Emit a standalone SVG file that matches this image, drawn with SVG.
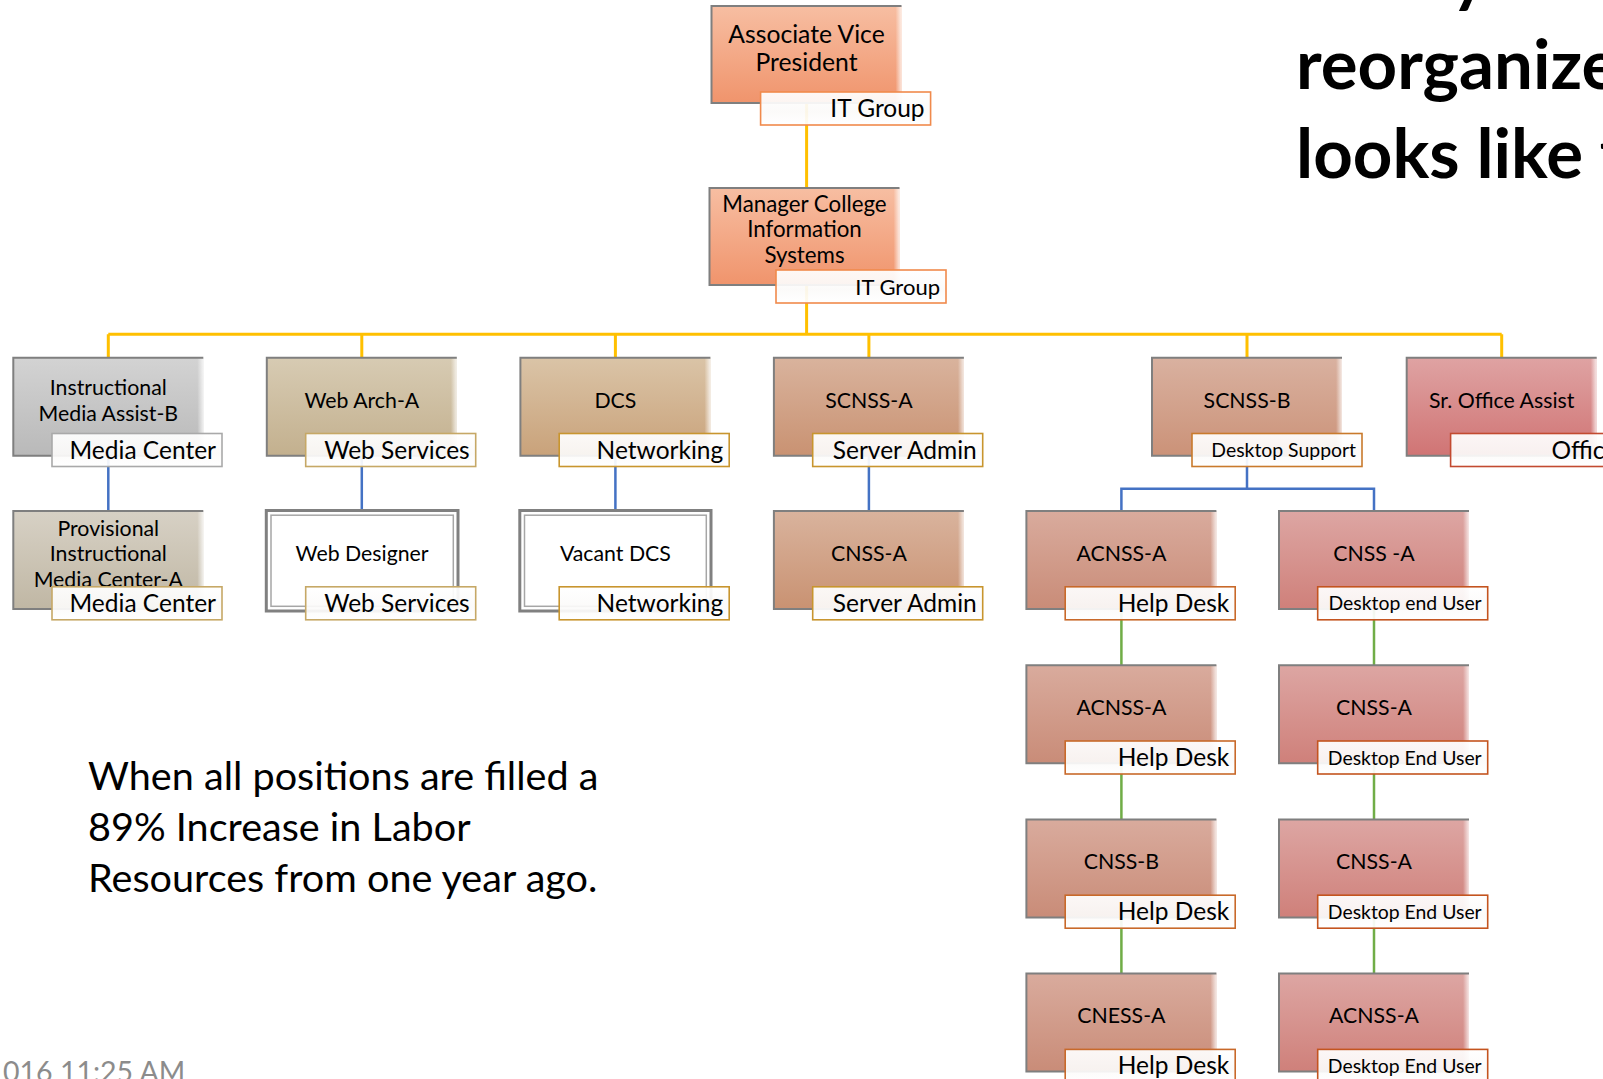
<svg xmlns="http://www.w3.org/2000/svg" width="1603" height="1079" viewBox="0 0 1603 1079">
<defs>
<linearGradient id="g-salmon" x1="0" y1="0" x2="0" y2="1"><stop offset="0" stop-color="#f7bea2"/><stop offset="1" stop-color="#f0946c"/></linearGradient>
<linearGradient id="g-gray" x1="0" y1="0" x2="0" y2="1"><stop offset="0" stop-color="#d3d3d3"/><stop offset="1" stop-color="#b9b9b9"/></linearGradient>
<linearGradient id="g-khaki" x1="0" y1="0" x2="0" y2="1"><stop offset="0" stop-color="#d7d1c5"/><stop offset="1" stop-color="#c0b7a4"/></linearGradient>
<linearGradient id="g-tan" x1="0" y1="0" x2="0" y2="1"><stop offset="0" stop-color="#d7cbb3"/><stop offset="1" stop-color="#c3b08e"/></linearGradient>
<linearGradient id="g-dcs" x1="0" y1="0" x2="0" y2="1"><stop offset="0" stop-color="#dac4a7"/><stop offset="1" stop-color="#c9a27a"/></linearGradient>
<linearGradient id="g-scnss" x1="0" y1="0" x2="0" y2="1"><stop offset="0" stop-color="#d9b39d"/><stop offset="1" stop-color="#c99272"/></linearGradient>
<linearGradient id="g-scnssb" x1="0" y1="0" x2="0" y2="1"><stop offset="0" stop-color="#d9b1a0"/><stop offset="1" stop-color="#cb9278"/></linearGradient>
<linearGradient id="g-cola" x1="0" y1="0" x2="0" y2="1"><stop offset="0" stop-color="#d9ab9d"/><stop offset="1" stop-color="#c98c78"/></linearGradient>
<linearGradient id="g-colb" x1="0" y1="0" x2="0" y2="1"><stop offset="0" stop-color="#dda6a3"/><stop offset="1" stop-color="#cf807a"/></linearGradient>
<linearGradient id="g-sr" x1="0" y1="0" x2="0" y2="1"><stop offset="0" stop-color="#dfa3a3"/><stop offset="1" stop-color="#d07474"/></linearGradient>
<linearGradient id="g-edge" x1="0" y1="0" x2="1" y2="0"><stop offset="0" stop-color="#fff" stop-opacity="0"/><stop offset="1" stop-color="#fff" stop-opacity="0.75"/></linearGradient>
<linearGradient id="g-label" x1="0" y1="0" x2="0" y2="1"><stop offset="0" stop-color="#fff"/><stop offset="0.6" stop-color="#fbfaf9"/><stop offset="1" stop-color="#fff"/></linearGradient>
</defs>
<style>
.bd{fill:none;stroke:#7f7f7f;stroke-width:2}
.edge{fill:url(#g-edge)}
.t{font-family:Lato,"Liberation Sans",sans-serif;font-size:21.3px;fill:#000;text-anchor:middle}
.lb{fill:url(#g-label);fill-opacity:0.93;stroke-width:1.6}
.lt{font-family:Lato,"Liberation Sans",sans-serif;font-size:24.5px;fill:#000;text-anchor:end}
.lts{font-size:19.4px}
.l-top{stroke:#f08a4c}
.l-gray{stroke:#a9a9a9}
.l-tan{stroke:#c6a866}
.l-gold{stroke:#c8952e}
.l-ds{stroke:#c97a2c}
.l-hd{stroke:#c8692a}
.l-du{stroke:#c4541f}
.l-sr{stroke:#c24a30}
.c-y{stroke:#ffc000;stroke-width:3;fill:none}
.c-b{stroke:#4472c4;stroke-width:2.5;fill:none}
.c-g{stroke:#70ad47;stroke-width:2.5;fill:none}
.dbl-o{fill:#fff;stroke:#808080;stroke-width:3}
.dbl-i{fill:none;stroke:#a6a6a6;stroke-width:1.5}
.body{font-family:Lato,"Liberation Sans",sans-serif;font-size:39.6px;fill:#000}
.title{font-family:Lato,"Liberation Sans",sans-serif;font-size:69px;font-weight:bold;fill:#000}
.stamp{font-family:Lato,"Liberation Sans",sans-serif;font-size:28.5px;fill:#8c8c8c}
</style>

<g id="connectors">
<path class="c-y" d="M806.6,103V188M806.6,285V334.3M108.3,334.3H1501.7M108.3,334.3V357.8M361.8,334.3V357.8M615.4,334.3V357.8M868.9,334.3V357.8M1247,334.3V357.8M1501.7,334.3V357.8"/>
<path class="c-b" d="M108.3,455.8V511M361.8,455.8V509M615.4,455.8V509M868.9,455.8V511M1247,455.8V488.7M1121.4,511V488.7H1374V511"/>
<path class="c-g" d="M1121.4,609V665.2M1121.4,763.2V819.4M1121.4,917.4V973.6M1374,609V665.2M1374,763.2V819.4M1374,917.4V973.6"/>
</g>

<g id="n-avp">
<rect x="711.5" y="6" width="190" height="97" fill="url(#g-salmon)"/>
<rect class="edge" x="895.5" y="6" width="6" height="97"/>
<path class="bd" d="M901.5,6H711.5V103H901.5"/>
<text class="t" x="806.5" y="42.5" style="font-size:24.7px">Associate Vice</text>
<text class="t" x="806.5" y="71" style="font-size:24.7px">President</text>
<rect class="lb l-top" x="760.6" y="92" width="170" height="33"/>
<text class="lt" x="924.6" y="117">IT Group</text>
</g>

<g id="n-mgr">
<rect x="709.5" y="188" width="190" height="97" fill="url(#g-salmon)"/>
<rect class="edge" x="893.5" y="188" width="6" height="97"/>
<path class="bd" d="M899.5,188H709.5V285H899.5"/>
<text class="t" x="804.5" y="211.6" style="font-size:22.3px">Manager College</text>
<text class="t" x="804.5" y="237.3" style="font-size:22.3px">Information</text>
<text class="t" x="804.5" y="263" style="font-size:22.3px">Systems</text>
<rect class="lb l-top" x="776" y="270" width="170" height="33"/>
<text class="lt" x="940" y="294.5" style="font-size:22px">IT Group</text>
</g>

<g id="n-imab">
<rect x="13.3" y="357.8" width="190" height="98" fill="url(#g-gray)"/>
<rect class="edge" x="197.3" y="357.8" width="6" height="98"/>
<path class="bd" d="M203.3,357.8H13.3V455.8H203.3"/>
<text class="t" x="108.3" y="394.5">Instructional</text>
<text class="t" x="108.3" y="420.5">Media Assist-B</text>
<rect class="lb l-gray" x="52" y="433.5" width="170" height="33"/>
<text class="lt" x="216" y="458.5">Media Center</text>
</g>

<g id="n-wa">
<rect x="266.8" y="357.8" width="190" height="98" fill="url(#g-tan)"/>
<rect class="edge" x="450.8" y="357.8" width="6" height="98"/>
<path class="bd" d="M456.8,357.8H266.8V455.8H456.8"/>
<text class="t" x="361.8" y="407.5">Web Arch-A</text>
<rect class="lb l-tan" x="305.7" y="433.5" width="170" height="33"/>
<text class="lt" x="469.7" y="458.5">Web Services</text>
</g>

<g id="n-dcs">
<rect x="520.4" y="357.8" width="190" height="98" fill="url(#g-dcs)"/>
<rect class="edge" x="704.4" y="357.8" width="6" height="98"/>
<path class="bd" d="M710.4,357.8H520.4V455.8H710.4"/>
<text class="t" x="615.4" y="407.5">DCS</text>
<rect class="lb l-gold" x="559.2" y="433.5" width="170" height="33"/>
<text class="lt" x="723.2" y="458.5">Networking</text>
</g>

<g id="n-scnssa">
<rect x="773.9" y="357.8" width="190" height="98" fill="url(#g-scnss)"/>
<rect class="edge" x="957.9" y="357.8" width="6" height="98"/>
<path class="bd" d="M963.9,357.8H773.9V455.8H963.9"/>
<text class="t" x="868.9" y="407.5">SCNSS-A</text>
<rect class="lb l-gold" x="812.7" y="433.5" width="170" height="33"/>
<text class="lt" x="976.7" y="458.5">Server Admin</text>
</g>

<g id="n-scnssb">
<rect x="1152" y="357.8" width="190" height="98" fill="url(#g-scnssb)"/>
<rect class="edge" x="1336" y="357.8" width="6" height="98"/>
<path class="bd" d="M1342,357.8H1152V455.8H1342"/>
<text class="t" x="1247" y="407.5">SCNSS-B</text>
<rect class="lb l-ds" x="1192" y="433.5" width="170" height="33"/>
<text class="lt lts" x="1356" y="457">Desktop Support</text>
</g>

<g id="n-sroa">
<rect x="1406.7" y="357.8" width="190" height="98" fill="url(#g-sr)"/>
<rect class="edge" x="1590.7" y="357.8" width="6" height="98"/>
<path class="bd" d="M1596.7,357.8H1406.7V455.8H1596.7"/>
<text class="t" x="1501.7" y="407.5">Sr. Office Assist</text>
<rect class="lb l-sr" x="1450.6" y="433.5" width="170" height="33"/>
<text class="lt" x="1551.5" y="458.5" style="text-anchor:start">Offic</text>
</g>

<g id="n-pimca">
<rect x="13.3" y="511" width="190" height="98" fill="url(#g-khaki)"/>
<rect class="edge" x="197.3" y="511" width="6" height="98"/>
<path class="bd" d="M203.3,511H13.3V609H203.3"/>
<text class="t" x="108.3" y="535.5">Provisional</text>
<text class="t" x="108.3" y="561">Instructional</text>
<text class="t" x="108.3" y="586.5">Media Center-A</text>
<rect class="lb l-tan" x="52" y="586.8" width="170" height="33"/>
<text class="lt" x="216" y="611.8">Media Center</text>
</g>

<g id="n-wd">
<rect class="dbl-o" x="266.3" y="510.5" width="191.7" height="100.5"/>
<rect class="dbl-i" x="271" y="515.2" width="182.3" height="91.1"/>
<text class="t" x="362.1" y="560.7">Web Designer</text>
<rect class="lb l-tan" x="305.7" y="586.8" width="170" height="33"/>
<text class="lt" x="469.7" y="611.8">Web Services</text>
</g>

<g id="n-vdcs">
<rect class="dbl-o" x="519.8" y="510.5" width="191.2" height="100.5"/>
<rect class="dbl-i" x="524.5" y="515.2" width="181.8" height="91.1"/>
<text class="t" x="615.4" y="560.7">Vacant DCS</text>
<rect class="lb l-gold" x="559.2" y="586.8" width="170" height="33"/>
<text class="lt" x="723.2" y="611.8">Networking</text>
</g>

<g id="n-cnssa1">
<rect x="773.9" y="511" width="190" height="98" fill="url(#g-scnss)"/>
<rect class="edge" x="957.9" y="511" width="6" height="98"/>
<path class="bd" d="M963.9,511H773.9V609H963.9"/>
<text class="t" x="868.9" y="560.7">CNSS-A</text>
<rect class="lb l-gold" x="812.7" y="586.8" width="170" height="33"/>
<text class="lt" x="976.7" y="611.8">Server Admin</text>
</g>

<g id="n-a1">
<rect x="1026.4" y="511" width="190" height="98" fill="url(#g-cola)"/>
<rect class="edge" x="1210.4" y="511" width="6" height="98"/>
<path class="bd" d="M1216.4,511H1026.4V609H1216.4"/>
<text class="t" x="1121.4" y="560.7">ACNSS-A</text>
<rect class="lb l-hd" x="1065.2" y="586.8" width="170" height="33"/>
<text class="lt" x="1229.2" y="611.8">Help Desk</text>
</g>
<g id="n-a2">
<rect x="1026.4" y="665.2" width="190" height="98" fill="url(#g-cola)"/>
<rect class="edge" x="1210.4" y="665.2" width="6" height="98"/>
<path class="bd" d="M1216.4,665.2H1026.4V763.2H1216.4"/>
<text class="t" x="1121.4" y="714.9">ACNSS-A</text>
<rect class="lb l-hd" x="1065.2" y="741" width="170" height="33"/>
<text class="lt" x="1229.2" y="766">Help Desk</text>
</g>
<g id="n-a3">
<rect x="1026.4" y="819.4" width="190" height="98" fill="url(#g-cola)"/>
<rect class="edge" x="1210.4" y="819.4" width="6" height="98"/>
<path class="bd" d="M1216.4,819.4H1026.4V917.4H1216.4"/>
<text class="t" x="1121.4" y="869.1">CNSS-B</text>
<rect class="lb l-hd" x="1065.2" y="895.2" width="170" height="33"/>
<text class="lt" x="1229.2" y="920.2">Help Desk</text>
</g>
<g id="n-a4">
<rect x="1026.4" y="973.6" width="190" height="98" fill="url(#g-cola)"/>
<rect class="edge" x="1210.4" y="973.6" width="6" height="98"/>
<path class="bd" d="M1216.4,973.6H1026.4V1071.6H1216.4"/>
<text class="t" x="1121.4" y="1023.3">CNESS-A</text>
<rect class="lb l-hd" x="1065.2" y="1049.4" width="170" height="33"/>
<text class="lt" x="1229.2" y="1074.4">Help Desk</text>
</g>

<g id="n-b1">
<rect x="1279" y="511" width="190" height="98" fill="url(#g-colb)"/>
<rect class="edge" x="1463" y="511" width="6" height="98"/>
<path class="bd" d="M1469,511H1279V609H1469"/>
<text class="t" x="1374" y="560.7">CNSS -A</text>
<rect class="lb l-du" x="1317.7" y="586.8" width="170" height="33"/>
<text class="lt lts" x="1481.7" y="610.3">Desktop end User</text>
</g>
<g id="n-b2">
<rect x="1279" y="665.2" width="190" height="98" fill="url(#g-colb)"/>
<rect class="edge" x="1463" y="665.2" width="6" height="98"/>
<path class="bd" d="M1469,665.2H1279V763.2H1469"/>
<text class="t" x="1374" y="714.9">CNSS-A</text>
<rect class="lb l-du" x="1317.7" y="741" width="170" height="33"/>
<text class="lt lts" x="1481.7" y="764.5">Desktop End User</text>
</g>
<g id="n-b3">
<rect x="1279" y="819.4" width="190" height="98" fill="url(#g-colb)"/>
<rect class="edge" x="1463" y="819.4" width="6" height="98"/>
<path class="bd" d="M1469,819.4H1279V917.4H1469"/>
<text class="t" x="1374" y="869.1">CNSS-A</text>
<rect class="lb l-du" x="1317.7" y="895.2" width="170" height="33"/>
<text class="lt lts" x="1481.7" y="918.7">Desktop End User</text>
</g>
<g id="n-b4">
<rect x="1279" y="973.6" width="190" height="98" fill="url(#g-colb)"/>
<rect class="edge" x="1463" y="973.6" width="6" height="98"/>
<path class="bd" d="M1469,973.6H1279V1071.6H1469"/>
<text class="t" x="1374" y="1023.3">ACNSS-A</text>
<rect class="lb l-du" x="1317.7" y="1049.4" width="170" height="33"/>
<text class="lt lts" x="1481.7" y="1072.9">Desktop End User</text>
</g>

<g id="note">
<text class="body" x="88" y="790">When all positions are filled a</text>
<text class="body" x="88" y="841">89% Increase in Labor</text>
<text class="body" x="88" y="892">Resources from one year ago.</text>
</g>

<g id="title">
<text class="title" x="1451" y="-1">y</text>
<text class="title" x="1296" y="89">reorganize</text>
<text class="title" x="1296" y="178">looks like t</text>
</g>

<text class="stamp" x="3" y="1082">016 11:25 AM</text>
</svg>
